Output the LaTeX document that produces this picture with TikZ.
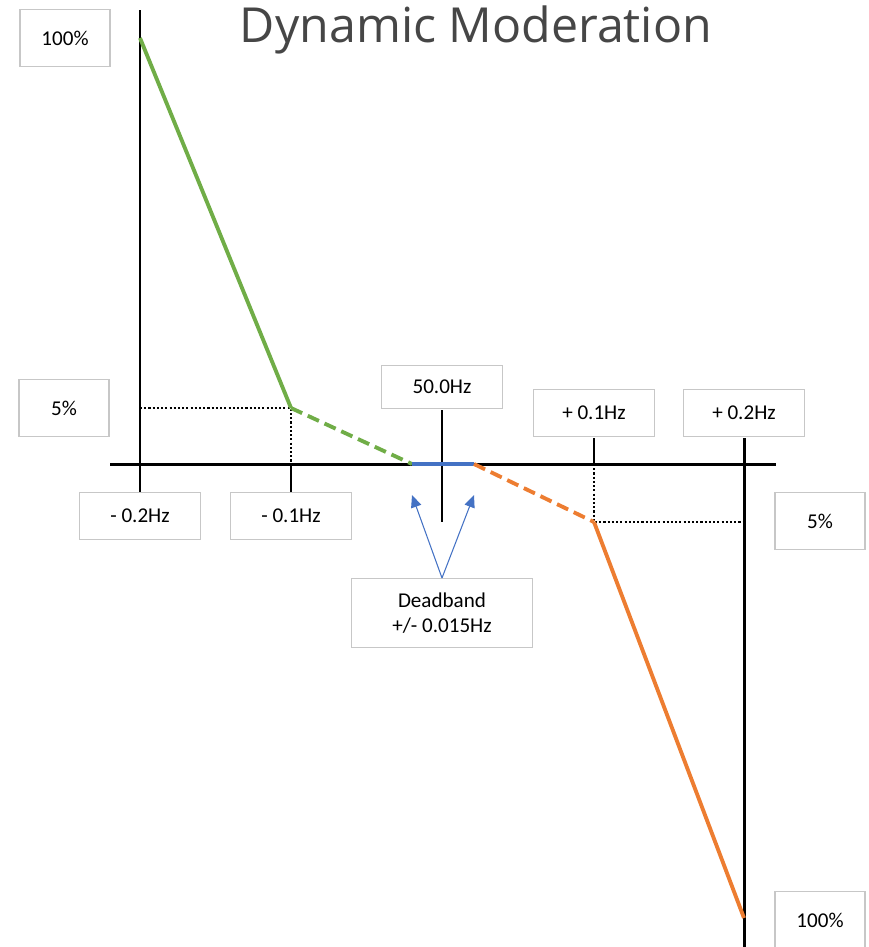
\documentclass[tikz,border=0pt]{standalone}
\usepackage{fontspec}
\setmainfont{Carlito}
\newfontfamily\titlefont{Open Sans}
\usetikzlibrary{arrows.meta}
\definecolor{drgreen}{RGB}{112,173,71}
\definecolor{drorange}{RGB}{237,125,49}
\definecolor{drblue}{RGB}{68,114,196}
\definecolor{drtitle}{RGB}{70,70,70}
\begin{document}
\begin{tikzpicture}[x=0.02cm,y=-0.02cm, font=\fontsize{12}{14}\selectfont,
  hzbox/.style={draw=black!22, line width=0.6pt, minimum width=2.42cm, minimum height=0.94cm, inner sep=0pt},
  pctbox/.style={hzbox, minimum width=1.8cm, minimum height=1.14cm},
  axis/.style={line width=1.7pt},
  guide/.style={dash pattern=on 1.2pt off 1.2pt, line width=0.6pt},
  curve/.style={line width=2.2pt},
  dashcurve/.style={curve, dash pattern=on 7pt off 3.5pt},
  pointer/.style={drblue, line width=0.6pt, -{Triangle[length=7pt,width=6pt]}}]
\useasboundingbox (0,0) rectangle (869,947);
% title
\node[font=\titlefont\fontsize{27.5}{32}\selectfont, text=drtitle] (title) at (476,30) {Dynamic Moderation};
% key points of the curve
\coordinate (top) at (140,38);
\coordinate (kneeL) at (291,408);
\coordinate (dbL) at (412,464);
\coordinate (dbR) at (474,464);
\coordinate (kneeR) at (594,522);
\coordinate (bot) at (744,918);
% axes and ticks
\draw[axis] (110,464) -- (776,464);
\draw[axis] (140,10) -- (140,492);
\draw[axis] (291,464) -- (291,492);
\draw[axis] (442,410) -- (442,522);
\draw[axis] (594,438) -- (594,464);
\draw[axis] (744,438) -- (744,947);
% dotted guides
\draw[guide] (140,408) -- (kneeL) -- (291,464);
\draw[guide] (594,464) -- (kneeR) -- (744,522);
% response curve
\draw[curve, drgreen] (top) -- (kneeL);
\draw[dashcurve, drgreen] (kneeL) -- (dbL);
\draw[curve, drblue] (dbL) -- (dbR);
\draw[dashcurve, drorange] (dbR) -- (kneeR);
\draw[curve, drorange] (kneeR) -- (bot);
% labels
\node[pctbox] (p100a) at (65,38) {100\%};
\node[pctbox] (p5a) at (64,408) {5\%};
\node[hzbox] (m02) at (140,516) {- 0.2Hz};
\node[hzbox] (m01) at (291,516) {- 0.1Hz};
\node[hzbox, minimum height=0.86cm] (f50) at (442,387) {50.0Hz};
\node[hzbox] (p01) at (594,413) {+ 0.1Hz};
\node[hzbox] (p02) at (744,413) {+ 0.2Hz};
\node[pctbox] (p5b) at (820,521) {5\%};
\node[pctbox] (p100b) at (820,920) {100\%};
\node[hzbox, minimum width=3.62cm, minimum height=1.38cm, align=center] (dead) at (442,613) {Deadband\\+/- 0.015Hz};
% deadband pointers
\coordinate (tipL) at (412,495);
\coordinate (tipR) at (474,495);
\draw[pointer] (dead.north) -- (tipL);
\draw[pointer] (dead.north) -- (tipR);
\end{tikzpicture}
\end{document}
